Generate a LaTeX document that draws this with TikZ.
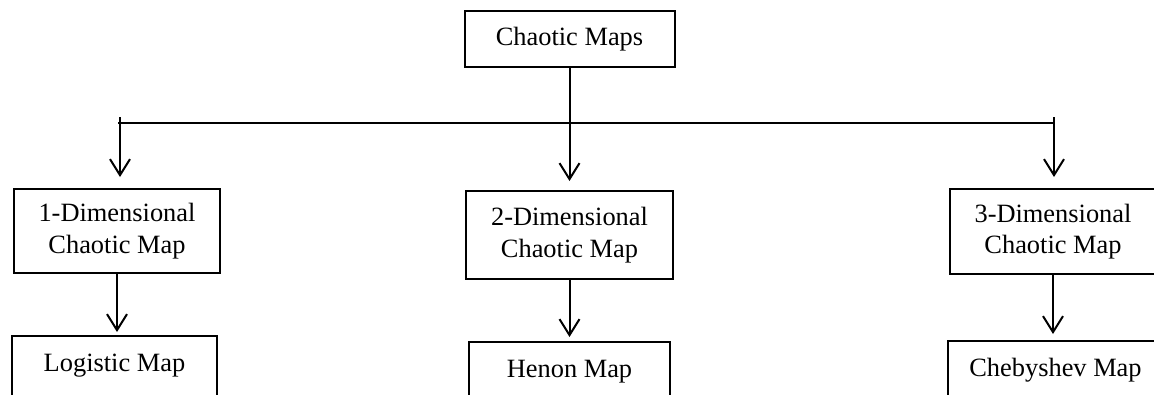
\documentclass[tikz,border=0pt]{standalone}
\usepackage{fontspec}
\setmainfont{Liberation Serif}
\usetikzlibrary{arrows.meta}
\begin{document}
\begin{tikzpicture}[x=1pt,y=-1pt,
  box/.style={draw=black, line width=2pt, inner sep=0pt, align=center,
    font=\fontsize{26.4}{31.5}\selectfont},
  leafbox/.style={box, anchor=north, minimum height=80pt, text height=18pt, text depth=28pt},
  conn/.style={line width=2pt, draw=black},
  arr/.style={conn, -{Straight Barb[length=16pt,width=20pt,line width=2pt]}}
]
\useasboundingbox (0,0) rectangle (1154,394);
\clip (0,0) rectangle (1154,394);

\node[box, minimum width=210pt, minimum height=56pt] (top) at (569.5,39) {Chaotic Maps};

\node[box, minimum width=206pt, minimum height=84pt] (d1) at (117,231) {1-Dimensional\\Chaotic Map};
\node[box, minimum width=207pt, minimum height=88pt] (d2) at (569.5,235) {2-Dimensional\\Chaotic Map};
\node[box, minimum width=206pt, minimum height=85pt] (d3) at (1053,231.5) {3-Dimensional\\Chaotic Map};

\node[leafbox, minimum width=205pt] (logistic) at (114.5,335) {Logistic Map};
\node[leafbox, minimum width=201pt] (henon) at (569.5,341) {Henon Map};
\node[leafbox, minimum width=215pt] (cheb) at (1055.5,340) {Chebyshev Map};

\coordinate (hl) at (118,123);
\coordinate (hr) at (1054,123);
\coordinate (a1) at (120,117);
\coordinate (a3) at (1054,117);

\draw[conn] (hl) -- (hr);
\draw[arr, shorten >=9pt] (top.south) -- (d2.north);
\draw[arr, shorten >=11pt] (a1) -- (a1 |- d1.north);
\draw[arr, shorten >=11pt] (a3) -- (a3 |- d3.north);

\draw[arr, shorten >=3pt] (d1.south) -- (d1.south |- logistic.north);
\draw[arr, shorten >=4pt] (d2.south) -- (d2.south |- henon.north);
\draw[arr, shorten >=6pt] (d3.south) -- (d3.south |- cheb.north);
\end{tikzpicture}
\end{document}
